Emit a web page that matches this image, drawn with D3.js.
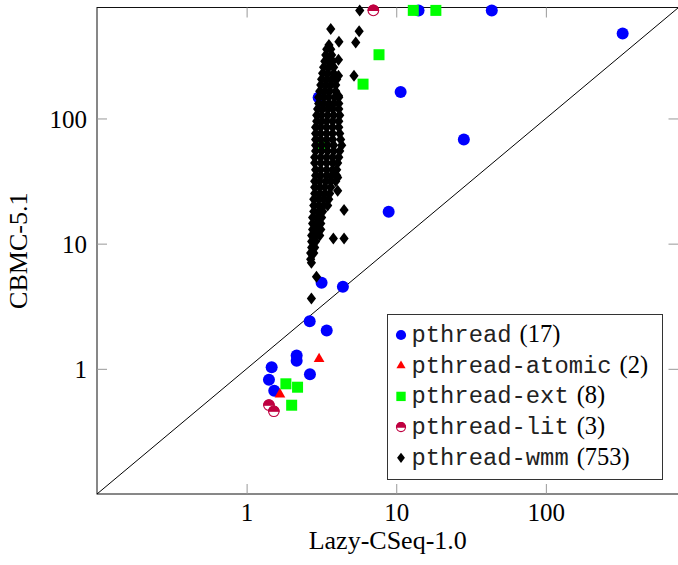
<!DOCTYPE html>
<html>
<head>
<meta charset="utf-8">
<script src="https://cdn.jsdelivr.net/npm/d3@7"></script>
<style>
  body { margin: 0; background: #fff; }
  svg { display: block; }
</style>
</head>
<body>
<div id="chart"></div>
<script>
'use strict'

// run times in seconds, each point is [lazy-cseq, cbmc]
// timeouts sit on the top row
const pthread = [
  [14.1, 730], [43.5, 730], [326, 477], [10.7, 163], [28.3, 68], [3.03, 147],
  [8.9, 18], [3.17, 4.87], [4.4, 4.53], [2.64, 2.4], [3.43, 2.02], [2.16, 1.28],
  [2.16, 1.16], [1.47, 1.03], [1.41, 0.817], [1.53, 0.667], [2.65, 0.905]
]
const pthreadAtomic = [[3.05, 1.2], [1.67, 0.626]]
const pthreadExt = [
  [13.0, 730], [18.4, 730], [7.67, 323], [6.0, 188], [1.83, 0.759],
  [2.19, 0.713], [2.0, 0.512], [3.2, 60]
]
const pthreadLit = [[7.03, 730], [1.41, 0.512], [1.52, 0.458]]
// the wmm cloud mostly overlaps itself, these cover its outline
const pthreadWmm = [
  [3.43, 358], [3.65, 358], [3.38, 321], [3.70, 321],
  [3.33, 287], [3.54, 287], [3.76, 287], [3.27, 257], [3.54, 257], [3.82, 257],
  [3.22, 230], [3.48, 230], [3.82, 230],
  [3.17, 206], [3.43, 206], [3.70, 206], [4.00, 206],
  [3.13, 185], [3.38, 185], [3.65, 185], [3.94, 185],
  [3.08, 165], [3.33, 165], [3.59, 165], [3.94, 165],
  [3.03, 148], [3.27, 148], [3.54, 148], [3.88, 148], [4.13, 148],
  [3.03, 132], [3.27, 132], [3.54, 132], [3.82, 132], [4.13, 132],
  [2.98, 119], [3.22, 119], [3.48, 119], [3.76, 119], [4.13, 119],
  [2.94, 106], [3.17, 106], [3.48, 106], [3.82, 106], [4.19, 106],
  [2.94, 95], [3.17, 95], [3.43, 95], [3.76, 95], [4.13, 95],
  [2.89, 85], [3.13, 85], [3.43, 85], [3.76, 85], [4.13, 85],
  [2.89, 76], [3.13, 76], [3.43, 76], [3.76, 76], [4.19, 76],
  [2.89, 68], [3.13, 68], [3.43, 68], [3.76, 68], [4.25, 68],
  [2.89, 61], [3.17, 61], [3.48, 61], [3.82, 61], [4.32, 61],
  [2.89, 55], [3.17, 55], [3.48, 55], [3.82, 55], [4.19, 55],
  [2.85, 49], [3.13, 49], [3.43, 49], [3.76, 49], [4.13, 49],
  [2.85, 44], [3.13, 44], [3.43, 44], [3.76, 44], [4.06, 44],
  [2.89, 39], [3.13, 39], [3.43, 39], [3.76, 39], [4.00, 39],
  [2.89, 35], [3.13, 35], [3.43, 35], [3.70, 35], [4.00, 35],
  [2.85, 31.5], [3.08, 31.5], [3.38, 31.5], [3.65, 31.5], [3.94, 31.5],
  [2.85, 28.2], [3.08, 28.2], [3.33, 28.2], [3.65, 28.2],
  [2.85, 25.2], [3.08, 25.2], [3.33, 25.2], [3.59, 25.2],
  [2.81, 22.6], [3.03, 22.6], [3.27, 22.6], [3.54, 22.6],
  [2.81, 20.2], [3.03, 20.2], [3.27, 20.2], [3.48, 20.2],
  [2.81, 18.1], [3.03, 18.1], [3.22, 18.1],
  [2.76, 16.2], [2.98, 16.2], [3.17, 16.2],
  [2.76, 14.5], [2.94, 14.5], [3.13, 14.5],
  [2.76, 13.0], [2.94, 13.0], [3.13, 13.0],
  [2.72, 11.6], [2.89, 11.6], [3.08, 11.6],
  [2.72, 10.4], [2.89, 10.4], [2.72, 9.3], [2.85, 9.3],
  [2.68, 8.4], [2.81, 8.4], [2.68, 7.5], [2.71, 7.05],
  // stragglers
  [5.7, 730], [3.65, 518], [5.65, 497], [4.14, 410], [5.36, 405], [3.55, 386],
  [4.11, 294], [5.22, 219], [4.11, 219], [4.11, 152], [4.06, 33.7], [4.06, 26.4],
  [4.48, 18.6], [3.8, 11], [4.48, 11], [2.93, 5.45], [2.71, 3.65]
]

const seriesNames = ['pthread', 'pthread-atomic', 'pthread-ext', 'pthread-lit', 'pthread-wmm']
const seriesCounts = [17, 2, 8, 3, 753]
const tickValues = [1, 10, 100]
const axisLimits = [0.1, 770]

const W = 678, H = 565
const plot = { left: 97, right: 678.5, top: 7.5, bottom: 494 }

const svg = d3.select('#chart').append('svg')
  .attr('width', W).attr('height', H)

const x = d3.scaleLog().domain(axisLimits).range([plot.left, plot.right])
const y = d3.scaleLog().domain(axisLimits).range([plot.bottom, plot.top])

const serif = "'Liberation Serif', 'Times New Roman', serif"
const mono = "'Liberation Mono', 'Courier New', monospace"

// frame
svg.append('rect')
  .attr('x', plot.left).attr('y', plot.top)
  .attr('width', plot.right - plot.left).attr('height', plot.bottom - plot.top)
  .attr('fill', 'none').attr('stroke', '#111').attr('stroke-width', 1)

// ticks on all four sides, pointing in
const fmt = d3.format('d')
const styleAxis = (g) => {
  g.select('.domain').remove()
  g.selectAll('.tick line').attr('stroke', '#999').attr('stroke-width', 1)
  g.selectAll('.tick text').attr('fill', '#000')
    .style('font-family', serif).style('font-size', '25px')
}
svg.append('g')
  .attr('transform', `translate(0,${plot.bottom})`)
  .call(d3.axisBottom(x).tickValues(tickValues).tickSize(-10).tickFormat(fmt))
  .call(styleAxis)
  .call(g => g.selectAll('.tick text').attr('y', 26.5).attr('dy', null))
svg.append('g')
  .attr('transform', `translate(0,${plot.top})`)
  .call(d3.axisTop(x).tickValues(tickValues).tickSize(-10).tickFormat(''))
  .call(styleAxis)
svg.append('g')
  .attr('transform', `translate(${plot.left},0)`)
  .call(d3.axisLeft(y).tickValues(tickValues).tickSize(-10).tickFormat(fmt))
  .call(styleAxis)
  .call(g => g.selectAll('.tick text').attr('x', -10).attr('y', 9).attr('dy', null))
svg.append('g')
  .attr('transform', `translate(${plot.right},0)`)
  .call(d3.axisRight(y).tickValues(tickValues).tickSize(-10).tickFormat(''))
  .call(styleAxis)

// axis labels
svg.append('text')
  .attr('x', (plot.left + plot.right) / 2).attr('y', 549)
  .attr('text-anchor', 'middle')
  .style('font-family', serif).style('font-size', '26px')
  .text('Lazy-CSeq-1.0')
svg.append('text')
  .attr('transform', `translate(27,${(plot.top + plot.bottom) / 2}) rotate(-90)`)
  .attr('text-anchor', 'middle')
  .style('font-family', serif).style('font-size', '26px')
  .text('CBMC-5.1')

// y = x
svg.append('line')
  .attr('x1', x(axisLimits[0])).attr('y1', y(axisLimits[0]))
  .attr('x2', x(axisLimits[1])).attr('y2', y(axisLimits[1]))
  .attr('stroke', '#000').attr('stroke-width', 1)

// marker painters, s = scale factor (legend uses smaller ones)
const purple = '#bf0040'
const markers = [
  (g, s) => g.append('circle').attr('r', 6 * s).attr('fill', '#0000ff'),
  (g, s) => {
    const r = 6.2 * s
    g.append('path')
      .attr('d', `M0,${-r}L${0.866 * r},${0.5 * r}L${-0.866 * r},${0.5 * r}Z`)
      .attr('fill', '#ff0000')
  },
  (g, s) => g.append('rect')
    .attr('x', -5.5 * s).attr('y', -5.5 * s)
    .attr('width', 11 * s).attr('height', 11 * s)
    .attr('fill', '#00ff00'),
  (g, s) => {
    const r = 5.3 * s
    g.append('circle').attr('r', r).attr('fill', '#fff')
      .attr('stroke', purple).attr('stroke-width', 1.1)
    g.append('path')
      .attr('d', `M${-r},0A${r},${r} 0 0 1 ${r},0Z`)
      .attr('fill', purple).attr('stroke', purple).attr('stroke-width', 1.1)
  },
  (g, s) => g.append('path')
    .attr('d', `M0,${-6 * s}L${4.6 * s},0L0,${6 * s}L${-4.6 * s},0Z`)
    .attr('fill', '#000')
]

const seriesData = [pthread, pthreadAtomic, pthreadExt, pthreadLit, pthreadWmm]
seriesData.forEach((pts, i) => {
  svg.append('g').attr('class', 'series-' + i)
    .selectAll('g')
    .data(pts)
    .join('g')
    .attr('transform', d => `translate(${x(d[0])},${y(d[1])})`)
    .each(function () { markers[i](d3.select(this), 1) })
})

// legend
const legend = svg.append('g')
legend.append('rect')
  .attr('x', 387.5).attr('y', 314.5).attr('width', 275).attr('height', 165)
  .attr('fill', '#fff').attr('stroke', '#333').attr('stroke-width', 1)

// size the mono face so a character is ~14.3px wide, like the typewriter font
const probe = legend.append('text').style('font-family', mono).style('font-size', '24px')
  .text('pthread-atomic')
const perChar = probe.node().getComputedTextLength() / 14
probe.remove()
const monoSize = perChar > 0 ? 24 * 14.3 / perChar : 24

seriesNames.forEach((name, i) => {
  const cy = 335 + i * 30.7
  const m = legend.append('g').attr('transform', `translate(401,${cy})`)
  markers[i](m, 0.85)
  const t = legend.append('text')
    .attr('x', 411.5).attr('y', cy + 7)
  t.append('tspan').style('font-family', mono).style('font-size', monoSize + 'px')
    .attr('fill', '#222').text(name)
  t.append('tspan').attr('dx', 8).style('font-family', serif).style('font-size', '24.5px')
    .text(`(${seriesCounts[i]})`)
})
</script>
</body>
</html>
